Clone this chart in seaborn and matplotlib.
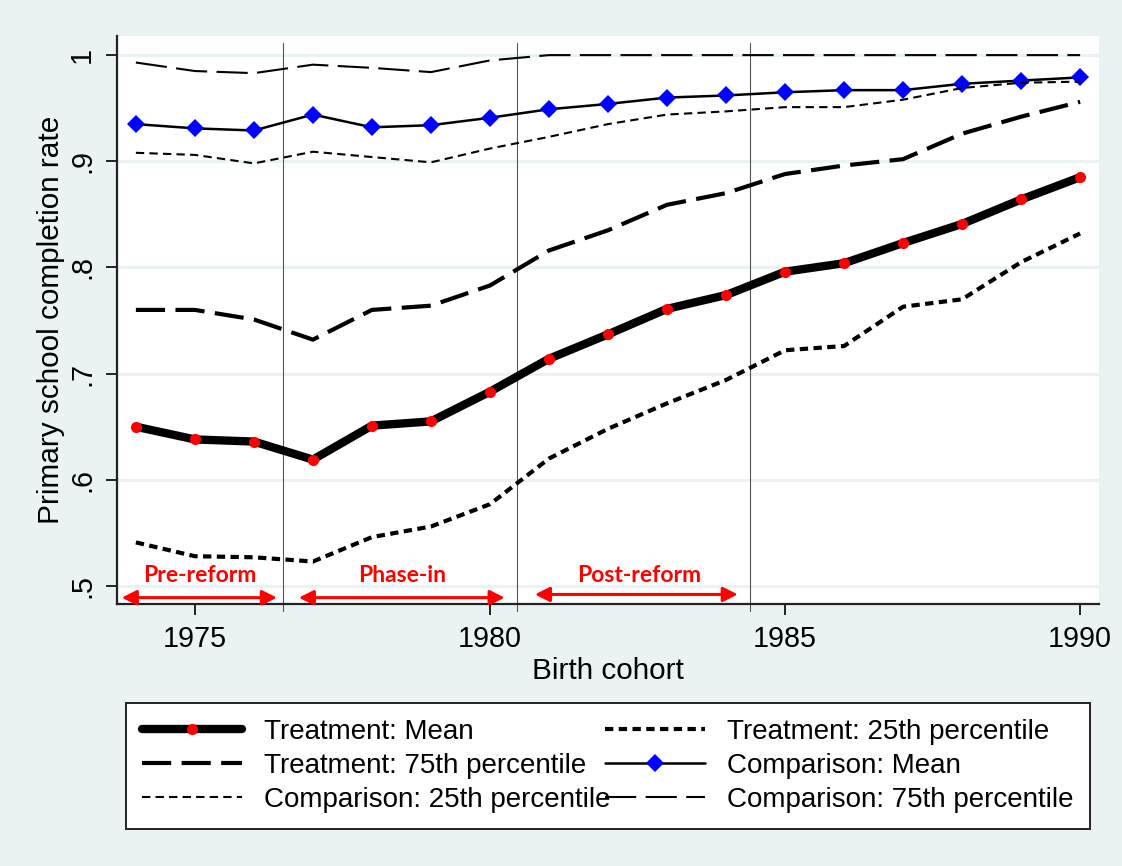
import matplotlib
matplotlib.use('Agg')
from matplotlib import pyplot as plt
import seaborn

seaborn.set_theme(style='white')
plt.rcParams['font.family'] = ['Liberation Sans', 'DejaVu Sans']
plt.rcParams['text.color'] = 'black'
plt.rcParams['axes.labelcolor'] = 'black'
plt.rcParams['xtick.color'] = 'black'
plt.rcParams['ytick.color'] = 'black'

#%% data
cohort = list(range(1974, 1991))

treat_mean = [0.650, 0.638, 0.636, 0.619, 0.651, 0.655, 0.683, 0.714, 0.737,
              0.761, 0.774, 0.796, 0.804, 0.823, 0.841, 0.864, 0.885]
treat_p25 = [0.541, 0.528, 0.527, 0.523, 0.546, 0.556, 0.577, 0.620, 0.648,
             0.672, 0.694, 0.722, 0.726, 0.763, 0.770, 0.805, 0.832]
treat_p75 = [0.760, 0.760, 0.751, 0.732, 0.760, 0.764, 0.783, 0.816, 0.835,
             0.859, 0.870, 0.888, 0.896, 0.902, 0.926, 0.942, 0.956]
comp_mean = [0.935, 0.931, 0.929, 0.944, 0.932, 0.934, 0.941, 0.949, 0.954,
             0.960, 0.962, 0.965, 0.967, 0.967, 0.973, 0.976, 0.979]
comp_p25 = [0.908, 0.906, 0.898, 0.909, 0.904, 0.899, 0.912, 0.923, 0.935,
            0.944, 0.947, 0.951, 0.951, 0.958, 0.969, 0.974, 0.975]
comp_p75 = [0.993, 0.985, 0.983, 0.991, 0.988, 0.984, 0.995, 1.000, 1.000,
            1.000, 1.000, 1.000, 1.000, 1.000, 1.000, 1.000, 1.000]

series_labels = ['Treatment: Mean', 'Treatment: 25th percentile',
                 'Treatment: 75th percentile', 'Comparison: Mean',
                 'Comparison: 25th percentile', 'Comparison: 75th percentile']

yticks = [0.5, 0.6, 0.7, 0.8, 0.9, 1.0]
ytick_labels = ['.5', '.6', '.7', '.8', '.9', '1']
xticks = [1975, 1980, 1985, 1990]

period_cuts = [1976.5, 1980.45, 1984.4]
period_names = ['Pre-reform', 'Phase-in', 'Post-reform']
period_label_x = [1975.08, 1978.51, 1982.53]
period_arrow_from = [1973.76, 1976.76, 1980.76]
period_arrow_to = [1976.39, 1980.25, 1984.2]

bg = '#EAF2F3'

#%% styles
styles = {
    'Treatment: Mean': dict(lw=6, ls='-', marker='o', ms=8, mfc='#FF0000', mec='#FF0000', mew=0),
    'Treatment: 25th percentile': dict(lw=3, ls=(0, (2, 1.3)), marker=None),
    'Treatment: 75th percentile': dict(lw=3, ls=(0, (7, 2.5)), marker=None),
    'Comparison: Mean': dict(lw=1.8, ls='-', marker='D', ms=9, mfc='#0000FF', mec='#0000FF', mew=0),
    'Comparison: 25th percentile': dict(lw=1.5, ls=(0, (4, 2.5)), marker=None),
    'Comparison: 75th percentile': dict(lw=1.5, ls=(0, (15, 4.5)), marker=None),
}
values = [treat_mean, treat_p25, treat_p75, comp_mean, comp_p25, comp_p75]

#%% plot
fig = plt.figure(figsize=(11.22, 8.66), dpi=100, facecolor=bg)
ax = fig.add_axes([117 / 1122, 1 - 604 / 866, 982 / 1122, 568 / 866])
ax.set_facecolor('white')

for label, vals in zip(series_labels, values):
    st = styles[label]
    seaborn.lineplot(x=cohort, y=vals, ax=ax, color='black', label=label,
                     linewidth=st['lw'], linestyle=st['ls'], marker=st['marker'],
                     markersize=st.get('ms', 0), markerfacecolor=st.get('mfc', 'black'),
                     markeredgecolor=st.get('mec', 'black'), markeredgewidth=st.get('mew', 0),
                     zorder=3)
h, l = ax.get_legend_handles_labels()
handles = dict(zip(l, h))

for xc in period_cuts:
    ax.axvline(xc, ymin=-0.012, ymax=0.988, color='#555555', lw=0.8, clip_on=False, zorder=2)

for name, xt, xa, xb in zip(period_names, period_label_x, period_arrow_from, period_arrow_to):
    yarr = 0.492 if name == 'Post-reform' else 0.489
    ax.annotate('', xy=(xb, yarr), xytext=(xa, yarr),
                arrowprops=dict(arrowstyle='<|-|>', color='#FF0000', lw=2.2,
                                mutation_scale=22, shrinkA=0, shrinkB=0))
    ax.text(xt, 0.510, name, color='#FF0000', fontsize=16.5, fontweight='bold',
            family=['Lato', 'DejaVu Sans'], ha='center', va='center')

ax.set_xlim(1973.68, 1990.32)
ax.set_ylim(0.483, 1.018)
ax.set_xticks(xticks)
ax.set_yticks(yticks, labels=ytick_labels)
for t in ax.get_yticklabels():
    t.set_rotation(90)
    t.set_va('center')
ax.yaxis.grid(True, color=bg, lw=2.2)
ax.set_axisbelow(True)
ax.tick_params(axis='both', direction='out', length=8, width=1.4, color='#222222',
               labelsize=20.7, pad=7, left=True, bottom=True)
for side in ['top', 'right']:
    ax.spines[side].set_visible(False)
for side in ['left', 'bottom']:
    ax.spines[side].set_color('#222222')
    ax.spines[side].set_linewidth(1.6)

ax.set_xlabel('Birth cohort', fontsize=21.4)
ax.set_ylabel('Primary school completion rate', fontsize=21.4)
ax.yaxis.set_label_coords(-0.053, 0.5)
ax.xaxis.set_label_coords(0.5, -0.094)

order = ['Treatment: Mean', 'Treatment: 75th percentile', 'Comparison: 25th percentile',
         'Treatment: 25th percentile', 'Comparison: Mean', 'Comparison: 75th percentile']
leg = ax.legend([handles[k] for k in order], order, ncol=2, loc='upper left',
                bbox_to_anchor=(126 / 1122, 1 - 703 / 866, 964 / 1122, 0),
                bbox_transform=fig.transFigure, mode='expand', fontsize=20,
                handlelength=3.6, handletextpad=0.8, borderpad=0.58, labelspacing=0.28,
                fancybox=False, framealpha=1, edgecolor='#222222', borderaxespad=0)
leg.get_frame().set_linewidth(1.4)

fig.savefig('out.png', dpi=100, facecolor=bg)
